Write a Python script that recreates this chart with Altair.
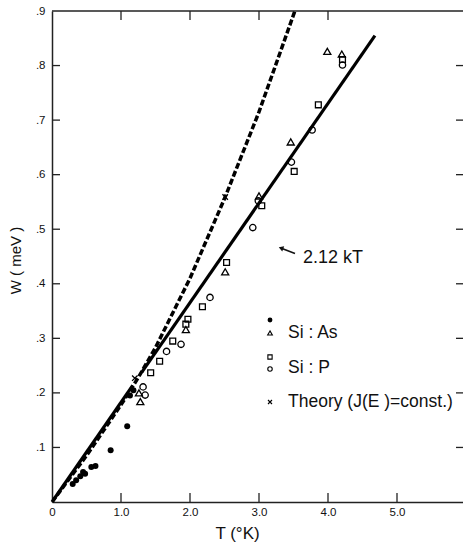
import altair as alt
import pandas as pd

# ---------------- data ----------------
# Si:As, filled circles
as_dot_T = [0.30, 0.35, 0.41, 0.45, 0.48, 0.57, 0.63, 0.85, 1.09, 1.13, 1.18]
as_dot_W = [0.033, 0.040, 0.047, 0.055, 0.052, 0.064, 0.066, 0.095, 0.139, 0.195, 0.205]
# Si:As, open triangles
as_tri_T = [1.26, 1.28, 1.94, 2.51, 3.00, 3.46, 3.99, 4.20]
as_tri_W = [0.200, 0.184, 0.316, 0.422, 0.561, 0.660, 0.826, 0.821]
# Si:P, open squares
p_sq_T = [1.43, 1.56, 1.75, 1.94, 1.97, 2.18, 2.53, 3.04, 3.51, 3.86, 4.21]
p_sq_W = [0.237, 0.258, 0.295, 0.326, 0.335, 0.358, 0.439, 0.543, 0.606, 0.728, 0.811]
# Si:P, open circles
p_ci_T = [1.32, 1.35, 1.66, 1.87, 2.29, 2.91, 2.99, 3.47, 3.77, 4.21]
p_ci_W = [0.211, 0.196, 0.276, 0.289, 0.375, 0.503, 0.552, 0.623, 0.682, 0.801]
# Theory (J(E) = const.) points
th_T = [1.20, 2.51]
th_W = [0.227, 0.559]
# Theory curve (dashed)
curve_T = [0.0, 0.5, 1.0, 1.25, 1.5, 2.0, 2.5, 3.0, 3.52]
curve_W = [0.0, 0.085, 0.178, 0.228, 0.283, 0.41, 0.556, 0.715, 0.90]
# Fit line W = 2.12 kT (drawn in two pieces)
k_B = 0.08617  # meV/K
fit_factor = 2.12
fit_T_pieces = [[0.0, 1.17], [1.30, 4.68]]

x_ticks = [1, 2, 3, 4, 5]
x_top_ticks = [1, 2, 3, 4]
x_label_values = [0, 1, 2, 3, 4, 5]
y_ticks = [0.1, 0.2, 0.3, 0.4, 0.5, 0.6, 0.7, 0.8]
y_label_values = [0.1, 0.2, 0.3, 0.4, 0.5, 0.6, 0.7, 0.8, 0.9]

# ---------------- layout ----------------
PW, PH = 411, 491
X_MAX = PW / 69.0
FONT = "Liberation Sans"

xs = alt.Scale(domain=[0, X_MAX], nice=False, zero=False)
ys = alt.Scale(domain=[0, 0.9], nice=False, zero=False)

x_axis = alt.Axis(values=x_label_values, labelExpr="datum.value == 0 ? '0' : format(datum.value, '.1f')",
                  ticks=False, tickSize=0, grid=False, domain=True, domainColor="#222", domainWidth=1.5,
                  labelFont=FONT, labelFontSize=11.5, labelColor="#111", labelPadding=4, labelFlush=False,
                  title="T (°K)", titleFont=FONT, titleFontSize=17, titleFontWeight="normal", titleColor="#111",
                  titleX=185, titleY=31, titleAlign="center", titleBaseline="middle", titleAngle=0)
y_axis = alt.Axis(values=y_label_values, labelExpr="replace(format(datum.value, '.1f'), '0.', '.')",
                  ticks=False, tickSize=0, grid=False, domain=True, domainColor="#222", domainWidth=1.5,
                  labelFont=FONT, labelFontSize=11.5, labelColor="#111", labelPadding=7, labelFlush=False,
                  title="W ( meV )", titleFont=FONT, titleFontSize=15, titleFontWeight="normal", titleColor="#111",
                  titleX=-37, titleY=249, titleAlign="center", titleBaseline="middle", titleAngle=270)


def pts(T, W):
    return pd.DataFrame({"T": T, "W": W})


def X():
    return alt.X("T:Q", scale=xs, axis=x_axis)


def Y():
    return alt.Y("W:Q", scale=ys, axis=y_axis)


# fit line pieces
fit_rows = []
for i, (a, b) in enumerate(fit_T_pieces):
    for t in (a, b):
        fit_rows.append({"T": t, "W": fit_factor * k_B * t, "seg": i})
fit_df = pd.DataFrame(fit_rows)

base = alt.Chart(pts(curve_T, curve_W)).mark_line(
    color="black", strokeWidth=3.5, strokeDash=[6, 2.5], strokeCap="butt", clip=True
).encode(x=X(), y=Y())

fit = alt.Chart(fit_df).mark_line(color="black", strokeWidth=3.2, strokeCap="butt").encode(
    x=X(), y=Y(), detail="seg:N")

dots = alt.Chart(pts(as_dot_T, as_dot_W)).mark_point(
    shape="circle", filled=True, color="black", size=36, opacity=1).encode(x=X(), y=Y())
tris = alt.Chart(pts(as_tri_T, as_tri_W)).mark_point(
    shape="triangle-up", filled=False, color="black", size=50, strokeWidth=1.3, opacity=1).encode(x=X(), y=Y())
sqs = alt.Chart(pts(p_sq_T, p_sq_W)).mark_point(
    shape="square", filled=False, color="black", size=34, strokeWidth=1.3, opacity=1).encode(x=X(), y=Y())
circs = alt.Chart(pts(p_ci_T, p_ci_W)).mark_point(
    shape="circle", filled=False, color="black", size=40, strokeWidth=1.3, opacity=1).encode(x=X(), y=Y())
xpath = "M-1,-1L1,1M-1,1L1,-1"
theory = alt.Chart(pts(th_T, th_W)).mark_point(
    shape=xpath, filled=False, color="black", size=30, strokeWidth=1.3, opacity=1).encode(x=X(), y=Y())

# inward ticks and frame
tick_style = dict(color="#222", strokeWidth=1.3)
bt = alt.Chart(pd.DataFrame({"T": x_ticks})).mark_rule(**tick_style).encode(
    x=X(), y=alt.value(PH), y2=alt.value(PH - 9))
tt = alt.Chart(pd.DataFrame({"T": x_top_ticks})).mark_rule(**tick_style).encode(
    x=X(), y=alt.value(0), y2=alt.value(9))
lt = alt.Chart(pd.DataFrame({"W": y_ticks})).mark_rule(**tick_style).encode(
    y=Y(), x=alt.value(0), x2=alt.value(8))
rt = alt.Chart(pd.DataFrame({"W": y_ticks})).mark_rule(**tick_style).encode(
    y=Y(), x=alt.value(PW - 7), x2=alt.value(PW))
top = alt.Chart(pd.DataFrame({"a": [0]})).mark_rule(color="#222", strokeWidth=1.5).encode(
    y=alt.value(0), x=alt.value(0), x2=alt.value(PW))

# annotation "2.12 kT" with arrow
ann = pd.DataFrame({"label": ["2.12 kT"]})
ann_text = alt.Chart(ann).mark_text(font=FONT, fontSize=18, align="left", baseline="middle", color="#111").encode(
    text="label:N", x=alt.value(251), y=alt.value(247))
ann_shaft = alt.Chart(ann).mark_rule(color="#111", strokeWidth=1.5).encode(
    x=alt.value(243), y=alt.value(242.5), x2=alt.value(230), y2=alt.value(237.5))
ann_head = alt.Chart(ann).mark_point(shape="triangle-up", filled=True, color="#111", size=30, angle=291, opacity=1).encode(
    x=alt.value(229), y=alt.value(237))

# in-plot legend
legend_labels = ["Si : As", "Si : P", "Theory (J(E )=const.)"]
legend_label_y = [322, 357, 391]
legend_layers = []
for lab, yy in zip(legend_labels, legend_label_y):
    legend_layers.append(
        alt.Chart(pd.DataFrame({"t": [lab]})).mark_text(
            font=FONT, fontSize=17.5, align="left", baseline="middle", color="#111").encode(
            text="t:N", x=alt.value(236), y=alt.value(yy)))

legend_symbols = [("circle", True, 24, 309), ("triangle-up", False, 22, 322),
                  ("square", False, 18, 346), ("circle", False, 20, 358), (xpath, False, 16, 391)]
for shape, filled, size, yy in legend_symbols:
    legend_layers.append(
        alt.Chart(pd.DataFrame({"a": [0]})).mark_point(
            shape=shape, filled=filled, color="black", size=size, strokeWidth=1.1, opacity=1).encode(
            x=alt.value(218), y=alt.value(yy)))

chart = alt.layer(
    base, fit, dots, tris, sqs, circs, theory, bt, tt, lt, rt, top,
    ann_text, ann_shaft, ann_head, *legend_layers
).properties(
    width=PW, height=PH,
    autosize=alt.AutoSizeParams(type="none"),
    padding={"left": 52, "top": 11, "right": 0, "bottom": 41},
    background="white",
).configure_view(stroke=None)

chart.save("out.html", embed_options={"renderer": "svg", "actions": False})
